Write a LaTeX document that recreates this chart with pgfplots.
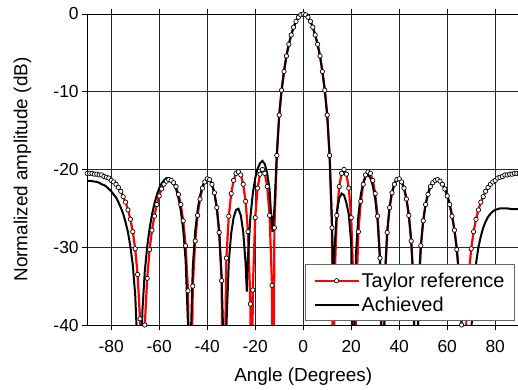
\documentclass[border=0pt]{standalone}
\usepackage{pgfplots}
\pgfplotsset{compat=1.18}
\usepackage{pgfplotstable}
\usepackage{fontspec}
\setmainfont{Liberation Sans}

\pgfplotstableread{
x y
-90 -20.5
-89 -20.5
-88 -20.5
-87 -20.6
-86 -20.6
-85 -20.7
-84 -20.7
-83 -20.9
-82 -21.0
-81 -21.1
-80 -21.4
-79 -21.6
-78 -21.9
-77 -22.3
-76 -22.8
-75 -23.5
-74 -24.2
-73 -25.2
-72 -26.4
-71 -28.0
-70 -30.2
-69 -33.5
-68 -39.2
-67 -60
-66 -40.0
-65 -34.0
-64 -30.3
-63 -27.8
-62 -26.0
-61 -24.5
-60 -23.4
-59 -22.5
-58 -21.9
-57 -21.5
-56 -21.3
-55 -21.4
-54 -21.7
-53 -22.2
-52 -23.2
-51 -24.5
-50 -26.6
-49 -29.8
-48 -35.6
-47 -60
-46 -35.0
-45 -29.2
-44 -25.9
-43 -23.8
-42 -22.4
-41 -21.6
-40 -21.2
-39 -21.3
-38 -21.9
-37 -23.0
-36 -24.9
-35 -28.1
-34 -34.3
-33.1 -60
-33 -51.8
-32 -31.4
-31 -26.0
-30 -23.1
-29 -21.4
-28 -20.5
-27 -20.3
-26 -20.7
-25 -21.9
-24 -24.1
-23 -28.0
-22 -37.3
-21.5 -60
-21 -35.5
-20 -26.2
-19 -22.4
-18 -20.6
-17 -20.0
-16 -20.5
-15 -22.2
-14 -25.9
-13 -34.9
-12.5 -60
-12 -27.5
-11 -18.2
-10 -13.0
-9 -9.8
-8 -7.4
-7 -5.4
-6 -3.9
-5 -2.7
-4 -1.7
-3 -0.95
-2 -0.42
-1 -0.1
0 0
1 -0.1
2 -0.42
3 -0.95
4 -1.7
5 -2.7
6 -3.9
7 -5.4
8 -7.4
9 -9.8
10 -13.0
11 -18.2
12 -27.5
12.5 -60
13 -34.9
14 -25.9
15 -22.2
16 -20.5
17 -20.0
18 -20.6
19 -22.4
20 -26.2
21 -35.5
21.5 -60
22 -37.3
23 -28.0
24 -24.1
25 -21.9
26 -20.7
27 -20.3
28 -20.5
29 -21.4
30 -23.1
31 -26.0
32 -31.4
33 -51.8
33.1 -60
34 -34.3
35 -28.1
36 -24.9
37 -23.0
38 -21.9
39 -21.3
40 -21.2
41 -21.6
42 -22.4
43 -23.8
44 -25.9
45 -29.2
46 -35.0
47 -60
48 -35.6
49 -29.8
50 -26.6
51 -24.5
52 -23.2
53 -22.2
54 -21.7
55 -21.4
56 -21.3
57 -21.5
58 -21.9
59 -22.5
60 -23.4
61 -24.5
62 -26.0
63 -27.8
64 -30.3
65 -34.0
66 -40.0
67 -60
68 -39.2
69 -33.5
70 -30.2
71 -28.0
72 -26.4
73 -25.2
74 -24.2
75 -23.5
76 -22.8
77 -22.3
78 -21.9
79 -21.6
80 -21.4
81 -21.1
82 -21.0
83 -20.9
84 -20.7
85 -20.7
86 -20.6
87 -20.6
88 -20.5
89 -20.5
90 -20.5
}\taylor

\pgfplotstableread{
x y
-90 -21.45
-89 -21.45
-88 -21.5
-87 -21.55
-86 -21.6
-85 -21.7
-84 -21.9
-83 -22.0
-82 -22.2
-81 -22.5
-80 -22.8
-79 -23.2
-78 -23.6
-77 -24.2
-76 -24.9
-75 -25.7
-74 -26.8
-73 -28.1
-72 -29.9
-71 -32.3
-70 -36.1
-69 -43.4
-68.3 -60
-68 -51
-67 -38.2
-66 -33.1
-65 -29.9
-64 -27.6
-63 -25.8
-62 -24.4
-61 -23.3
-60 -22.4
-59 -21.8
-58 -21.4
-57 -21.1
-56 -21.1
-55 -21.3
-54 -21.8
-53 -22.5
-52 -23.6
-51 -25.3
-50 -27.7
-49 -31.6
-48 -40.0
-47.4 -60
-47 -43.5
-46 -32.5
-45 -28.0
-44 -25.2
-43 -23.4
-42 -22.2
-41 -21.5
-40 -21.2
-39 -21.3
-38 -21.9
-37 -23.1
-36 -24.9
-35 -28.0
-34 -33.7
-33 -45
-32.8 -60
-32 -40.2
-31 -31.9
-30 -28.2
-29 -26.2
-28 -25.2
-27 -25.05
-26 -25.9
-25 -28.0
-24 -32.1
-23.5 -35.7
-23 -31.2
-22 -26.1
-21 -23.1
-20 -21.1
-19 -19.9
-18 -19.2
-17 -18.9
-16 -19.3
-15 -20.5
-14 -22.6
-13.5 -25.3
-12.8 -28.0
-12 -25.0
-11 -18.2
-10 -13.0
-9 -9.8
-8 -7.4
-7 -5.4
-6 -3.9
-5 -2.7
-4 -1.7
-3 -0.95
-2 -0.42
-1 -0.1
0 0
1 -0.1
2 -0.42
3 -0.95
4 -1.7
5 -2.7
6 -3.9
7 -5.4
8 -7.4
9 -9.8
10 -13.0
11 -18.2
12 -27.0
12.6 -36
13 -30.5
14 -25.5
15 -23.7
16 -23.1
17 -23.3
18 -24.3
19 -25.8
20 -29.5
20.8 -60
21 -46.1
22 -30.8
23 -25.9
24 -23.2
25 -21.7
26 -20.9
27 -20.7
28 -21.1
29 -22.1
30 -23.8
31 -26.6
32 -31.6
33 -46.9
33.2 -60
34 -34.2
35 -28.0
36 -24.8
37 -22.9
38 -21.8
39 -21.2
40 -21.1
41 -21.5
42 -22.3
43 -23.7
44 -25.8
45 -29.1
46 -34.9
47.1 -60
48 -36.5
49 -30.0
50 -26.6
51 -24.4
52 -23.1
53 -22.1
54 -21.6
55 -21.3
56 -21.2
57 -21.4
58 -21.8
59 -22.4
60 -23.3
61 -24.4
62 -25.9
63 -27.7
64 -30.2
65 -33.9
66 -40.0
67 -50
68 -55
69 -50
70 -41
71 -35.3
72 -32.1
73 -30.0
74 -28.6
75 -27.5
76 -26.7
77 -26.1
78 -25.7
79 -25.4
80 -25.2
81 -25.1
82 -25.0
83 -25.0
84 -25.0
85 -25.0
86 -25.05
87 -25.1
88 -25.1
89 -25.1
90 -25.1
}\achieved

\begin{document}
\begin{tikzpicture}
\begin{axis}[
  at={(0bp,0bp)}, anchor=south west,
  scale only axis,
  width=432bp, height=311bp,
  xmin=-90, xmax=90, ymin=-40, ymax=0,
  xtick={-80,-60,...,80},
  ytick={-40,-30,...,0},
  tick align=outside,
  major tick length=5bp,
  tick style={black, line width=0.7bp},
  xmajorgrids, ymajorgrids,
  grid style={black!85, line width=0.8bp},
  axis line style={black, line width=0.9bp},
  /pgf/number format/assume math mode=true,
  tick label style={font=\fontsize{17.5}{19}\selectfont},
  xticklabel style={yshift=-7bp},
  xlabel={Angle (Degrees)},
  ylabel={Normalized amplitude (dB)},
  label style={font=\fontsize{19}{21}\selectfont},
  xlabel style={at={(axis description cs:0.5,-0.167)}, anchor=center},
  ylabel style={at={(axis description cs:-0.150,0.5)}, anchor=center},
  legend style={at={(rel axis cs:0.99,0.013)}, anchor=south east,
    draw=black!60, line width=0.7bp, fill=white,
    font=\fontsize{20}{22}\selectfont,
    inner xsep=8bp, inner ysep=6bp, row sep=4bp},
  legend cell align=left,
  legend image code/.code={\draw[mark repeat=2,mark phase=2,#1] plot coordinates {(0bp,0bp) (22bp,0bp) (44bp,0bp)};},
]
\addlegendimage{red, line width=2.2bp, mark=*, mark size=2.2bp, mark options={fill=white, draw=black, line width=0.7bp}}
\addlegendentry{Taylor reference}
\addlegendimage{black, line width=2.2bp}
\addlegendentry{Achieved}
\addplot[red, line width=2.2bp, forget plot] table {\taylor};
\addplot[black, line width=2.0bp, forget plot] table {\achieved};
\addplot[only marks, mark=*, mark size=2.2bp, mark options={fill=white, draw=black, line width=0.7bp},
  restrict y to domain=-41:1, forget plot] table {\taylor};
\end{axis}
\pgfresetboundingbox
\path[use as bounding box] (-87.2bp,-65bp) rectangle (430.8bp,325bp);
\end{tikzpicture}
\end{document}
